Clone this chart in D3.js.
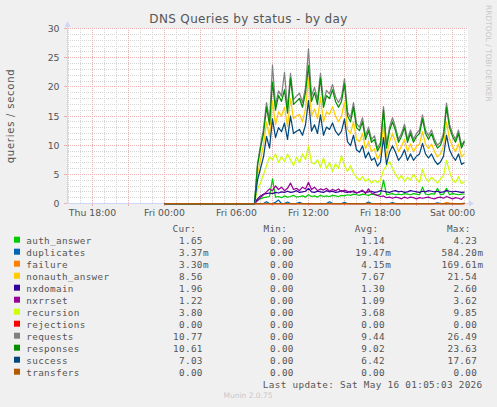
<!DOCTYPE html>
<html><head><meta charset="utf-8">
<script src="https://cdn.jsdelivr.net/npm/d3@7"></script>
<style>
html,body{margin:0;padding:0;background:#f0f0f0;}
svg{display:block;}
</style></head><body>
<svg id="chart" width="497" height="407"></svg>
<script>
// ---------- data ----------
const chartTitle = "DNS Queries by status - by day";
const yAxisTitle = "queries / second";
const yTickValues = [0, 5, 10, 15, 20, 25, 30];
const xTickLabels = ["Thu 18:00", "Fri 00:00", "Fri 06:00", "Fri 12:00", "Fri 18:00", "Sat 00:00"];
const xTickTimes = ["2026-05-14T18:00:00Z", "2026-05-15T00:00:00Z", "2026-05-15T06:00:00Z",
                    "2026-05-15T12:00:00Z", "2026-05-15T18:00:00Z", "2026-05-16T00:00:00Z"];
const viewStart = "2026-05-14T15:55:00Z";
const viewEnd = "2026-05-16T01:15:00Z";
const idleStart = "2026-05-15T00:00:00Z";   // series report 0 from here
const activeStart = "2026-05-15T07:45:00Z"; // first non-zero sample
const stepMinutes = 15;

const seriesNames = ["auth_answer", "duplicates", "failure", "nonauth_answer", "nxdomain", "nxrrset",
                     "recursion", "rejections", "requests", "responses", "success", "transfers"];
const seriesColors = ["#00CC00", "#0066B3", "#FF8000", "#FFCC00", "#330099", "#990099",
                      "#CCFF00", "#FF0000", "#808080", "#008F00", "#00487D", "#B35A00"];
const curValues = ["1.65", "3.37m", "3.30m", "8.56", "1.96", "1.22", "3.80", "0.00", "10.77", "10.61", "7.03", "0.00"];
const minValues = ["0.00", "0.00", "0.00", "0.00", "0.00", "0.00", "0.00", "0.00", "0.00", "0.00", "0.00", "0.00"];
const avgValues = ["1.14", "19.47m", "4.15m", "7.67", "1.30", "1.09", "3.68", "0.00", "9.44", "9.02", "6.42", "0.00"];
const maxValues = ["4.23", "584.20m", "169.61m", "21.54", "2.60", "3.62", "9.85", "0.00", "26.49", "23.63", "17.67", "0.00"];
const lastUpdate = "Last update: Sat May 16 01:05:03 2026";

const auth_answer = [0.5, 0.8, 1.0, 1.1, 1.2, 4.23, 1.1, 1.2, 1.0, 1.3,
  1.1, 1.2, 1.4, 1.1, 1.2, 1.3, 1.1, 1.5, 1.2, 1.3,
  1.1, 1.4, 1.2, 1.3, 1.2, 1.4, 1.3, 1.2, 1.4, 1.3,
  1.5, 1.4, 1.6, 1.5, 1.4, 1.6, 1.5, 1.4, 1.6, 1.5,
  1.4, 1.6, 4.0, 1.5, 1.6, 1.7, 1.5, 1.6, 1.5, 1.7,
  1.6, 1.5, 1.7, 1.6, 1.5, 2.8, 1.6, 1.5, 1.7, 1.6,
  2.6, 1.5, 1.6, 2.6, 1.5, 1.7, 1.6, 1.5, 1.6, 1.65];
const duplicates = [0, 0, 0, 0.3, 0, 0, 0.2, 0.58, 0, 0,
  0.25, 0, 0, 0, 0.2, 0, 0, 0, 0, 0,
  0, 0, 0, 0, 0.3, 0, 0, 0, 0, 0.2,
  0, 0, 0, 0, 0, 0, 0, 0.25, 0, 0,
  0, 0, 0, 0, 0, 0.15, 0, 0, 0, 0,
  0, 0, 0, 0, 0, 0, 0, 0, 0, 0,
  0.1, 0, 0, 0, 0, 0, 0, 0, 0, 0.003];
const failure = [0, 0, 0, 0, 0, 0, 0, 0, 0, 0,
  0, 0, 0, 0, 0, 0, 0, 0, 0, 0,
  0, 0, 0, 0, 0, 0, 0, 0, 0, 0,
  0, 0, 0, 0, 0, 0, 0, 0, 0, 0,
  0, 0, 0, 0, 0, 0, 0, 0, 0, 0,
  0, 0, 0, 0, 0, 0, 0, 0, 0, 0,
  0, 0, 0, 0.17, 0.05, 0, 0, 0, 0, 0.0033];
const nonauth_answer = [5.0, 7.5, 10.0, 14.0, 11.5, 17.5, 13.5, 15.7, 15.0, 16.5,
  13.2, 18.0, 14.5, 15.0, 15.3, 14.0, 16.2, 21.54, 15.0, 16.2,
  14.5, 18.2, 14.0, 15.7, 15.3, 16.6, 15.0, 14.0, 15.0, 17.4,
  12.7, 12.0, 14.0, 11.0, 10.6, 12.0, 9.4, 10.6, 8.9, 9.4,
  7.6, 8.5, 13.5, 8.0, 10.6, 12.0, 10.6, 8.9, 9.8, 11.0,
  8.9, 10.2, 8.9, 9.8, 10.2, 12.3, 10.2, 9.4, 10.2, 8.9,
  8.0, 8.5, 9.8, 14.0, 11.0, 9.8, 8.9, 10.2, 8.0, 8.56];
const nxdomain = [0.8, 1.3, 1.6, 1.7, 1.8, 1.7, 1.9, 1.8, 2.0, 1.9,
  2.1, 1.9, 2.0, 2.2, 1.9, 2.0, 2.1, 2.6, 2.0, 1.9,
  2.1, 2.0, 1.9, 2.2, 2.0, 2.1, 1.9, 2.0, 2.2, 2.0,
  1.9, 2.1, 2.0, 1.8, 2.0, 2.1, 1.9, 2.0, 2.1, 1.9,
  2.0, 2.2, 2.1, 2.0, 1.9, 2.1, 2.2, 2.0, 2.1, 1.9,
  2.0, 2.2, 2.1, 2.0, 1.9, 2.1, 2.0, 2.2, 2.1, 2.0,
  2.1, 1.9, 2.0, 2.2, 2.1, 2.0, 2.1, 2.0, 1.9, 1.96];
const nxrrset = [0.5, 1.0, 1.5, 2.0, 2.5, 2.2, 3.0, 2.4, 2.8, 2.2,
  2.6, 3.5, 2.4, 2.6, 2.2, 2.8, 2.5, 3.62, 2.4, 2.8,
  2.2, 2.5, 2.3, 2.6, 2.1, 2.4, 2.2, 2.5, 2.0, 2.3,
  2.1, 1.9, 2.2, 1.8, 2.0, 2.3, 1.7, 2.5, 1.8, 1.6,
  1.4, 1.2, 1.3, 1.0, 1.1, 0.9, 1.1, 1.0, 0.8, 1.1,
  0.9, 1.1, 1.0, 0.8, 1.0, 0.9, 1.0, 1.1, 0.9, 0.8,
  1.0, 1.1, 0.9, 1.2, 1.0, 0.8, 1.0, 0.9, 0.7, 1.22];
const recursion = [2.5, 3.5, 5.0, 6.5, 8.0, 7.5, 8.5, 7.0, 8.0, 7.2,
  8.5, 7.5, 6.5, 8.0, 7.0, 8.5, 7.5, 9.85, 7.0, 6.8,
  7.5, 6.2, 7.8, 6.0, 7.0, 5.5, 6.8, 6.0, 8.2, 6.5,
  5.5, 6.5, 5.2, 4.5, 4.0, 4.6, 3.8, 4.2, 3.5, 4.0,
  3.6, 4.0, 5.7, 6.5, 7.2, 6.0, 5.0, 4.2, 4.8, 3.8,
  4.5, 4.0, 5.0, 4.2, 3.6, 5.9, 4.4, 3.8, 4.5, 4.0,
  3.5, 4.2, 4.8, 7.4, 5.5, 4.0, 3.6, 4.6, 3.4, 3.80];
const rejections = [0, 0, 0, 0, 0, 0, 0, 0, 0, 0,
  0, 0, 0, 0, 0, 0, 0, 0, 0, 0,
  0, 0, 0, 0, 0, 0, 0, 0, 0, 0,
  0, 0, 0, 0, 0, 0, 0, 0, 0, 0,
  0, 0, 0, 0, 0, 0, 0, 0, 0, 0,
  0, 0, 0, 0, 0, 0, 0, 0, 0, 0,
  0, 0, 0, 0, 0, 0, 0, 0, 0, 0];
const requests = [6.8, 10.0, 12.8, 17.3, 14.2, 23.7, 16.8, 19.3, 18.4, 22.5,
  16.2, 22.3, 17.8, 18.4, 18.9, 17.3, 19.9, 26.49, 18.4, 19.9,
  17.8, 22.3, 17.3, 19.4, 18.8, 20.4, 18.3, 17.3, 18.3, 21.4,
  15.7, 14.7, 17.3, 13.7, 13.1, 14.7, 11.6, 13.1, 11.0, 11.6,
  9.5, 10.5, 16.6, 10.0, 13.1, 14.7, 13.1, 11.0, 12.0, 13.6,
  11.0, 12.6, 11.0, 12.0, 12.6, 15.2, 12.6, 11.6, 12.6, 11.0,
  10.0, 10.5, 12.0, 17.2, 13.6, 12.0, 11.0, 12.6, 10.0, 10.77];
const responses = [6.5, 9.5, 12.0, 16.5, 13.5, 20.8, 16.0, 18.5, 17.5, 19.5,
  15.5, 21.5, 17.0, 17.5, 18.0, 16.5, 19.0, 23.63, 17.5, 19.0,
  17.0, 21.5, 16.5, 18.5, 18.0, 19.5, 17.5, 16.5, 17.5, 20.5,
  15.0, 14.0, 16.5, 13.0, 12.5, 14.0, 11.0, 12.5, 10.5, 11.0,
  9.0, 10.0, 16.0, 9.5, 12.5, 14.0, 12.5, 10.5, 11.5, 13.0,
  10.5, 12.0, 10.5, 11.5, 12.0, 14.5, 12.0, 11.0, 12.0, 10.5,
  9.5, 10.0, 11.5, 16.5, 13.0, 11.5, 10.5, 12.0, 9.5, 10.61];
const success = [4.0, 6.0, 8.0, 11.5, 9.5, 14.5, 11.3, 13.0, 12.3, 13.8,
  11.0, 15.0, 12.0, 12.4, 12.7, 11.7, 13.5, 17.67, 12.4, 13.5,
  12.0, 15.2, 11.7, 13.1, 12.7, 13.8, 12.4, 11.7, 12.4, 14.5,
  10.6, 9.9, 11.7, 9.2, 8.8, 9.9, 7.8, 8.8, 7.4, 7.8,
  6.4, 7.1, 11.3, 6.7, 8.8, 9.9, 8.8, 7.4, 8.1, 9.2,
  7.4, 8.5, 7.4, 8.1, 8.5, 10.3, 8.5, 7.8, 8.5, 7.4,
  6.7, 7.1, 8.1, 11.7, 9.2, 8.1, 7.4, 8.5, 6.7, 7.03];
const transfers = [0, 0, 0, 0, 0, 0, 0, 0, 0, 0,
  0, 0, 0, 0, 0, 0, 0, 0, 0, 0,
  0, 0, 0, 0, 0, 0, 0, 0, 0, 0,
  0, 0, 0, 0, 0, 0, 0, 0, 0, 0,
  0, 0, 0, 0, 0, 0, 0, 0, 0, 0,
  0, 0, 0, 0, 0, 0, 0, 0, 0, 0,
  0, 0, 0, 0, 0, 0, 0, 0, 0, 0];
const seriesValues = [auth_answer, duplicates, failure, nonauth_answer, nxdomain, nxrrset,
                      recursion, rejections, requests, responses, success, transfers];

// ---------- drawing ----------
const W = 497, H = 407;
const P = {left: 67, right: 467, top: 28, bottom: 203};
const FONT = "'DejaVu Sans', sans-serif";
const MONO = "'DejaVu Sans Mono', monospace";
const TXT = "#555555";
const MAJOR = "#ecb0b0", MINOR = "#d6d6d6";

const svg = d3.select("#chart");
svg.append("rect").attr("width", W).attr("height", H).attr("fill", "#f0f0f0");
svg.append("rect").attr("x", P.left).attr("y", P.top)
  .attr("width", P.right - P.left + 1).attr("height", P.bottom - P.top + 1).attr("fill", "#ffffff");

const x = d3.scaleUtc().domain([new Date(viewStart), new Date(viewEnd)]).range([P.left + 0.5, P.right + 0.5]);
const y = d3.scaleLinear().domain([0, 30]).range([P.bottom + 0.5, P.top + 0.5]);
const crisp = v => Math.round(v - 0.5) + 0.5;

const grid = svg.append("g");
// minor first, then major on top
const hours = d3.utcHour.range(new Date(viewStart), new Date(viewEnd));
[false, true].forEach(drawMajor => {
  d3.range(1, 31, 1).forEach(v => {
    const major = v % 5 === 0;
    if (major !== drawMajor) return;
    grid.append("line")
      .attr("x1", P.left + 1).attr("x2", P.right + 1)
      .attr("y1", crisp(y(v))).attr("y2", crisp(y(v)))
      .attr("stroke", major ? MAJOR : MINOR)
      .attr("stroke-width", 1).attr("stroke-dasharray", "1,1");
  });
  hours.forEach(t => {
    const major = t.getUTCHours() % 3 === 0;
    if (major !== drawMajor) return;
    const xp = crisp(x(t));
    grid.append("line")
      .attr("x1", xp).attr("x2", xp).attr("y1", P.top).attr("y2", P.bottom)
      .attr("stroke", major ? MAJOR : MINOR)
      .attr("stroke-width", 1).attr("stroke-dasharray", "1,1");
    if (major) {
      grid.append("line").attr("x1", xp).attr("x2", xp).attr("y1", P.bottom + 1).attr("y2", P.bottom + 3)
        .attr("stroke", MAJOR).attr("stroke-width", 1);
    }
  });
});
yTickValues.forEach(v => {
  grid.append("line").attr("x1", P.left - 3).attr("x2", P.left)
    .attr("y1", crisp(y(v))).attr("y2", crisp(y(v)))
    .attr("stroke", MAJOR).attr("stroke-width", 1);
});

// axes
const AX = "#CFD6F8";
svg.append("line").attr("x1", P.left + 0.5).attr("x2", P.left + 0.5).attr("y1", P.bottom + 1).attr("y2", 24)
  .attr("stroke", AX).attr("stroke-width", 1);
svg.append("path").attr("d", `M${P.left - 2.5},27 L${P.left + 3.5},27 L${P.left + 0.5},21 Z`).attr("fill", AX);
svg.append("line").attr("x1", P.left).attr("x2", P.right + 4).attr("y1", P.bottom + 0.5).attr("y2", P.bottom + 0.5)
  .attr("stroke", AX).attr("stroke-width", 1);
svg.append("path").attr("d", `M${P.right + 2},${P.bottom - 2.5} L${P.right + 2},${P.bottom + 3.5} L${P.right + 7},${P.bottom + 0.5} Z`).attr("fill", AX);

// tick labels
yTickValues.forEach(v => {
  svg.append("text").attr("x", 59.5).attr("y", crisp(y(v)) + 3.2)
    .attr("text-anchor", "end").attr("font-family", FONT).attr("font-size", 9.33)
    .attr("fill", TXT).text(v);
});
xTickLabels.forEach((lab, i) => {
  svg.append("text").attr("x", x(new Date(xTickTimes[i]))).attr("y", 215.5)
    .attr("text-anchor", "middle").attr("font-family", FONT).attr("font-size", 9.33)
    .attr("fill", TXT).text(lab);
});

// series lines
const stepMs = stepMinutes * 60000;
const line = d3.line().x(d => x(d.t)).y(d => y(d.v));
seriesValues.forEach((vals, si) => {
  const pts = [];
  for (let t = +new Date(idleStart); t < +new Date(activeStart); t += stepMs) pts.push({t: new Date(t), v: 0});
  vals.forEach((v, i) => pts.push({t: new Date(+new Date(activeStart) + i * stepMs), v}));
  svg.append("path").datum(pts).attr("d", line)
    .attr("fill", "none").attr("stroke", seriesColors[si]).attr("stroke-width", 1.25)
    .attr("stroke-linejoin", "round");
});

// title
svg.append("text").attr("x", 149.3).attr("y", 23).attr("font-family", FONT).attr("font-size", 12)
  .attr("textLength", 198).attr("lengthAdjust", "spacing").attr("fill", TXT).text(chartTitle);
// y title
svg.append("text").attr("transform", "translate(13.8,116.3) rotate(-90)")
  .attr("text-anchor", "middle").attr("font-family", FONT).attr("font-size", 10)
  .attr("textLength", 94).attr("lengthAdjust", "spacing").attr("fill", TXT).text(yAxisTitle);
// rrdtool watermark
svg.append("text").attr("transform", "translate(485.5,5) rotate(90)")
  .attr("font-family", FONT).attr("font-size", 7.5)
  .attr("textLength", 96.7).attr("lengthAdjust", "spacing").attr("fill", "#c8c8c8").text("RRDTOOL / TOBI OETIKER");

// legend
const colEnds = [202.8, 293.8, 385.0, 477.2];
const colHeads = ["Cur:", "Min:", "Avg:", "Max:"];
const colData = [curValues, minValues, avgValues, maxValues];
const mono = sel => sel.attr("font-family", MONO).attr("font-size", 9.33)
  .attr("letter-spacing", 0.32).attr("fill", TXT);
colHeads.forEach((h, c) => {
  svg.append("text").attr("x", colEnds[c] - 30.3).attr("y", 231.5).call(mono).text(h);
});
seriesNames.forEach((name, i) => {
  const by = 243.5 + 12 * i;
  svg.append("rect").attr("x", 14).attr("y", by - 6.8).attr("width", 6).attr("height", 6)
    .attr("fill", seriesColors[i]);
  svg.append("text").attr("x", 26.3).attr("y", by).call(mono).text(name);
  colData.forEach((arr, c) => {
    const m = arr[i].match(/^([\d.]+)(\D*)$/);
    svg.append("text").attr("x", colEnds[c]).attr("y", by).attr("text-anchor", "end").call(mono).text(m[1]);
    if (m[2]) svg.append("text").attr("x", colEnds[c] + 0.3).attr("y", by).call(mono).text(m[2]);
  });
});
svg.append("text").attr("x", 482.5).attr("y", 387.5).attr("text-anchor", "end").call(mono).text(lastUpdate);
svg.append("text").attr("x", 248).attr("y", 398).attr("text-anchor", "middle")
  .attr("font-family", FONT).attr("font-size", 7.5).attr("fill", "#c8c8c8").text("Munin 2.0.75");
</script>
</body></html>
